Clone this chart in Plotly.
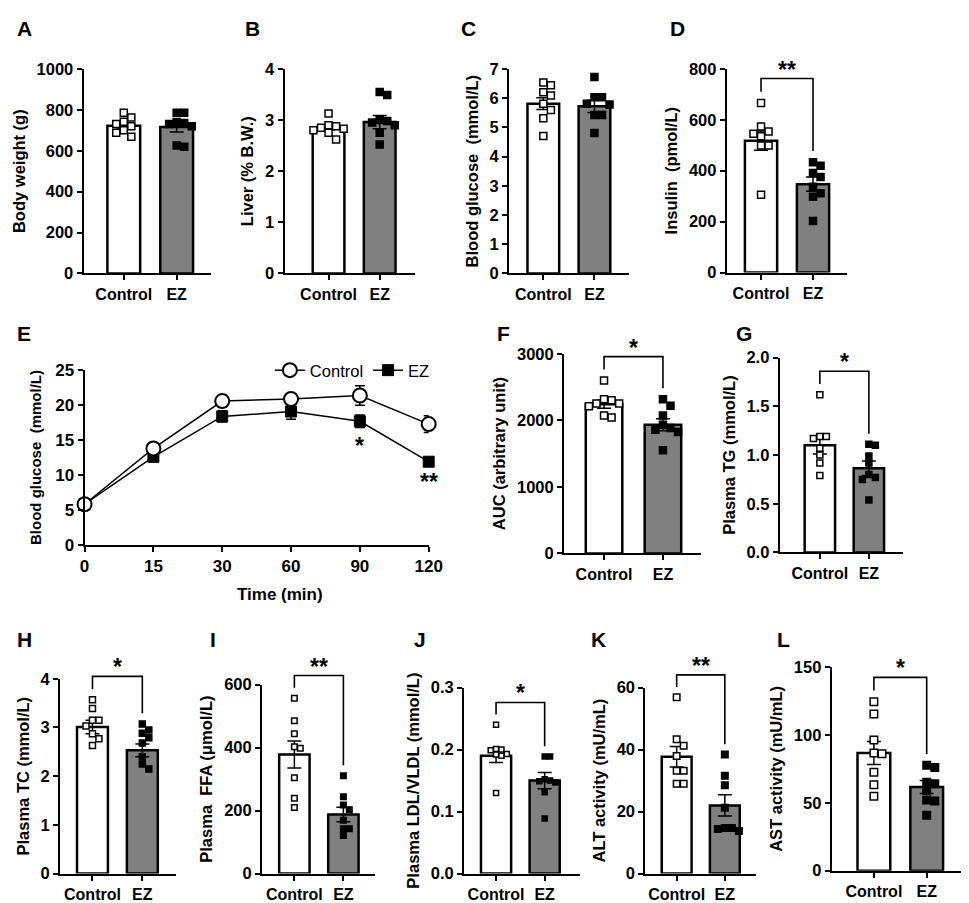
import plotly.graph_objects as go

W, H = 969, 903
groups = ["Control", "EZ"]

# A - Body weight (g)
bw_ctrl = [785, 762, 742, 730, 720, 700, 688, 668]
bw_ez = [785, 785, 740, 735, 730, 720, 625, 620]
bw_mean = [722, 716]
bw_sem = [14, 24]

# B - Liver (% B.W.)
liver_ctrl = [3.13, 2.90, 2.88, 2.85, 2.83, 2.80, 2.75, 2.62]
liver_ez = [3.55, 3.49, 3.00, 2.98, 2.95, 2.90, 2.75, 2.52]
liver_mean = [2.86, 2.96]
liver_sem = [0.05, 0.13]

# C - Blood glucose (mmol/L)
glu_ctrl = [6.53, 6.44, 6.20, 6.09, 5.81, 5.59, 5.31, 4.70]
glu_ez = [6.72, 6.03, 6.03, 5.81, 5.78, 5.42, 5.42, 4.81]
glu_mean = [5.81, 5.72]
glu_sem = [0.20, 0.21]

# D - Insulin (pmol/L)
ins_ctrl = [666, 574, 554, 545, 535, 499, 499, 305]
ins_ez = [433, 419, 391, 375, 337, 311, 298, 202]
ins_mean = [518, 347]
ins_sem = [38, 28]

# E - OGTT
ogtt_time = ["0", "15", "30", "60", "90", "120"]
ogtt_ctrl = [5.8, 13.8, 20.6, 20.9, 21.4, 17.3]
ogtt_ctrl_sem = [0.2, 0.3, 0.8, 0.6, 1.4, 1.2]
ogtt_ez = [5.8, 12.6, 18.4, 19.1, 17.7, 11.9]
ogtt_ez_sem = [0.2, 0.3, 0.8, 1.1, 0.9, 0.4]
ogtt_sig = ["", "", "", "", "*", "**"]

# F - AUC
auc_ctrl = [2597, 2317, 2302, 2253, 2253, 2213, 2071, 2041]
auc_ez = [2317, 2218, 2071, 1933, 1884, 1859, 1825, 1549]
auc_mean = [2240, 1935]
auc_sem = [60, 90]

# G - Plasma TG
tg_ctrl = [1.62, 1.19, 1.19, 1.17, 1.07, 1.00, 0.92, 0.79]
tg_ez = [1.11, 1.10, 0.99, 0.92, 0.80, 0.77, 0.75, 0.54]
tg_mean = [1.10, 0.865]
tg_sem = [0.09, 0.075]

# H - Plasma TC
tc_ctrl = [3.57, 3.39, 3.15, 3.15, 3.03, 2.87, 2.77, 2.63]
tc_ez = [3.07, 2.95, 2.88, 2.79, 2.68, 2.40, 2.25, 2.15]
tc_mean = [3.01, 2.53]
tc_sem = [0.14, 0.13]

# I - Plasma FFA
ffa_ctrl = [557, 485, 444, 403, 398, 304, 239, 210]
ffa_ez = [311, 244, 218, 203, 169, 142, 142, 121]
ffa_mean = [378, 188]
ffa_sem = [43, 23]

# J - Plasma LDL/VLDL
ldl_ctrl = [0.240, 0.201, 0.200, 0.199, 0.193, 0.192, 0.190, 0.130]
ldl_ez = [0.189, 0.189, 0.152, 0.150, 0.149, 0.147, 0.131, 0.089]
ldl_mean = [0.190, 0.150]
ldl_sem = [0.011, 0.013]

# K - ALT activity
alt_ctrl = [56.9, 43.3, 41.2, 37.9, 33.2, 33.2, 29.0, 29.0]
alt_ez = [38.4, 31.6, 28.5, 21.2, 14.7, 14.7, 14.4, 13.7]
alt_mean = [37.7, 22.0]
alt_sem = [3.3, 3.4]

# L - AST activity
ast_ctrl = [124.4, 115.4, 96.2, 86.7, 86.2, 72.4, 63.3, 54.9]
ast_ez = [77.6, 75.9, 65.2, 64.0, 59.2, 52.1, 51.3, 40.8]
ast_mean = [86.7, 61.6]
ast_sem = [8.5, 4.8]

FONT = "Arial, Liberation Sans, sans-serif"

# layout of the bar panels (pixel boxes of the plot areas)
panels = [
    dict(n=1, letter="A", lpos=(2, 12), xpx=(72, 202), ypx=(53, 262), xr=(-0.76, 1.65),
         ymax=1000, dtick=200, fmt="", title="Body weight (g)",
         pts=(bw_ctrl, bw_ez), mean=bw_mean, sem=bw_sem, sig="", ms=7),
    dict(n=2, letter="B", lpos=(235, 12), xpx=(277, 410), ypx=(53, 262), xr=(-0.86, 1.69),
         ymax=4, dtick=1, fmt="", title="Liver (% B.W.)",
         pts=(liver_ctrl, liver_ez), mean=liver_mean, sem=liver_sem, sig="", ms=7),
    dict(n=3, letter="C", lpos=(455, 12), xpx=(506, 628), ypx=(53, 262), xr=(-0.67, 1.67),
         ymax=7, dtick=1, fmt="", title="Blood glucose  (mmol/L)",
         pts=(glu_ctrl, glu_ez), mean=glu_mean, sem=glu_sem, sig="", ms=7),
    dict(n=4, letter="D", lpos=(668, 12), xpx=(728, 851), ypx=(53, 261), xr=(-0.66, 1.66),
         ymax=800, dtick=200, fmt="", title="Insulin  (pmol/L)",
         pts=(ins_ctrl, ins_ez), mean=ins_mean, sem=ins_sem, sig="**", ms=7),
    dict(n=6, letter="F", lpos=(492, 323), xpx=(562, 702), ypx=(344, 548), xr=(-0.68, 1.65),
         ymax=3000, dtick=1000, fmt="", title="AUC (arbitrary unit)",
         pts=(auc_ctrl, auc_ez), mean=auc_mean, sem=auc_sem, sig="*", ms=7),
    dict(n=7, letter="G", lpos=(735, 323), xpx=(782, 908), ypx=(348, 547), xr=(-0.82, 1.7),
         ymax=2.0, dtick=0.5, fmt=".1f", title="Plasma TG (mmol/L)",
         pts=(tg_ctrl, tg_ez), mean=tg_mean, sem=tg_sem, sig="*", ms=6),
    dict(n=8, letter="H", lpos=(2, 636), xpx=(48, 166), ypx=(676, 875), xr=(-0.65, 1.67),
         ymax=4, dtick=1, fmt="", title="Plasma TC (mmol/L)",
         pts=(tc_ctrl, tc_ez), mean=tc_mean, sem=tc_sem, sig="*", ms=6),
    dict(n=9, letter="I", lpos=(199, 636), xpx=(254, 369), ypx=(682, 875), xr=(-0.66, 1.64),
         ymax=600, dtick=200, fmt="", title="Plasma  FFA (μmol/L)",
         pts=(ffa_ctrl, ffa_ez), mean=ffa_mean, sem=ffa_sem, sig="**", ms=5.5),
    dict(n=10, letter="J", lpos=(407, 636), xpx=(460, 578), ypx=(685, 875), xr=(-0.66, 1.72),
         ymax=0.3, dtick=0.1, fmt=".1f", title="Plasma LDL/VLDL (mmol/L)",
         pts=(ldl_ctrl, ldl_ez), mean=ldl_mean, sem=ldl_sem, sig="*", ms=5),
    dict(n=11, letter="K", lpos=(588, 636), xpx=(645, 758), ypx=(685, 875), xr=(-0.65, 1.65),
         ymax=60, dtick=20, fmt="", title="ALT activity (mU/mL)",
         pts=(alt_ctrl, alt_ez), mean=alt_mean, sem=alt_sem, sig="**", ms=6.5),
    dict(n=12, letter="L", lpos=(777, 636), xpx=(835, 967), ypx=(664, 872), xr=(-0.8, 1.65),
         ymax=150, dtick=50, fmt="", title="AST activity (mU/mL)",
         pts=(ast_ctrl, ast_ez), mean=ast_mean, sem=ast_sem, sig="*", ms=7.5),
]


def px_x(p, v):
    x0, x1 = p["xpx"]
    r0, r1 = p["xr"]
    return x0 + (v - r0) / (r1 - r0) * (x1 - x0)


def px_y(p, v):
    y0, y1 = p["ypx"]
    return y1 - v / p["ymax"] * (y1 - y0)


def swarm(vals, p, size):
    # simple beeswarm: spread overlapping points sideways
    spacing = (p["xpx"][1] - p["xpx"][0]) / (p["xr"][1] - p["xr"][0])
    placed, offs = [], [0.0] * len(vals)
    order = sorted(range(len(vals)), key=lambda i: -vals[i])
    cands = [0]
    for k in range(1, 8):
        cands += [k, -k]
    for i in order:
        y = px_y(p, vals[i])
        for c in cands:
            dx = c * size * 1.1
            if all(abs(dx - a) >= size * 1.1 or abs(y - b) >= size * 1.1 for a, b in placed):
                break
        placed.append((dx, y))
        offs[i] = dx / spacing
    return offs


def axis_base():
    return dict(showline=True, linecolor="black", linewidth=2, ticks="outside",
                ticklen=5, tickwidth=2, tickcolor="black", showgrid=False, zeroline=False,
                tickfont=dict(family=FONT, size=16.5, color="black", weight="bold"))


fig = go.Figure()
layout = dict(width=W, height=H, margin=dict(l=0, r=0, t=0, b=0),
              plot_bgcolor="white", paper_bgcolor="white", showlegend=True)
shapes, annotations = [], []

for p in panels:
    n = p["n"]
    xa, ya = "x%d" % n, "y%d" % n
    fig.add_trace(go.Bar(
        x=[0, 1], y=p["mean"], width=0.62, xaxis=xa, yaxis=ya, showlegend=False,
        marker=dict(color=["white", "#808080"], line=dict(color="black", width=2.5)),
        error_y=dict(type="data", array=p["sem"], color="black", thickness=1.5, width=7),
    ))
    for g, vals in enumerate(p["pts"]):
        offs = swarm(vals, p, p["ms"])
        fig.add_trace(go.Scatter(
            x=[g + o for o in offs], y=vals, mode="markers", xaxis=xa, yaxis=ya,
            showlegend=False, cliponaxis=False,
            marker=dict(symbol="square", size=p["ms"],
                        color="white" if g == 0 else "black",
                        line=dict(color="black", width=1.5)),
        ))
    xd = [p["xpx"][0] / W, p["xpx"][1] / W]
    yd = [1 - p["ypx"][1] / H, 1 - p["ypx"][0] / H]
    ax = axis_base()
    ax.update(domain=xd, anchor=ya, range=list(p["xr"]), tickvals=[0, 1], ticktext=groups,
              tickfont=dict(family=FONT, size=16, color="black", weight="bold"))
    layout["xaxis%d" % n] = ax
    ay = axis_base()
    ay.update(domain=yd, anchor=xa, range=[0, p["ymax"]], dtick=p["dtick"], tickformat=p["fmt"],
              title=dict(text=p["title"], standoff=7,
                         font=dict(family=FONT, size=16.5, color="black", weight="bold")))
    layout["yaxis%d" % n] = ay

    annotations.append(dict(text=p["letter"], x=p["lpos"][0] / W, y=1 - p["lpos"][1] / H,
                            xref="paper", yref="paper", xanchor="left", yanchor="middle",
                            showarrow=False,
                            font=dict(family=FONT, size=21, color="black", weight="bold")))

    if p["sig"]:
        top = max(max(p["pts"][0]), max(p["pts"][1]))
        yb = top + 0.12 * p["ymax"]
        y0 = max(p["pts"][0]) + 0.055 * p["ymax"]
        y1 = max(p["pts"][1]) + 0.055 * p["ymax"]
        x0, x1 = px_x(p, 0), px_x(p, 1)
        path = "M %f,%f L %f,%f L %f,%f L %f,%f" % (
            x0 / W, 1 - px_y(p, y0) / H, x0 / W, 1 - px_y(p, yb) / H,
            x1 / W, 1 - px_y(p, yb) / H, x1 / W, 1 - px_y(p, y1) / H)
        shapes.append(dict(type="path", path=path, xref="paper", yref="paper",
                           line=dict(color="black", width=1.6)))
        annotations.append(dict(text=p["sig"], x=(x0 + x1) / 2 / W, y=1 - px_y(p, yb) / H,
                                xref="paper", yref="paper", xanchor="center", yanchor="bottom",
                                yshift=-6, showarrow=False,
                                font=dict(family=FONT, size=23, color="black", weight="bold")))

# E - OGTT line chart
fig.add_trace(go.Scatter(
    x=ogtt_time, y=ogtt_ez, name="EZ", mode="lines+markers", xaxis="x5", yaxis="y5",
    cliponaxis=False, legendrank=2,
    line=dict(color="black", width=1.5),
    marker=dict(symbol="square", size=11, color="black", line=dict(color="black", width=1)),
    error_y=dict(type="data", array=ogtt_ez_sem, color="black", thickness=1.5, width=5),
))
fig.add_trace(go.Scatter(
    x=ogtt_time, y=ogtt_ctrl, name="Control", mode="lines+markers", xaxis="x5", yaxis="y5",
    cliponaxis=False, legendrank=1,
    line=dict(color="black", width=1.5),
    marker=dict(symbol="circle", size=14, color="white", line=dict(color="black", width=2)),
    error_y=dict(type="data", array=ogtt_ctrl_sem, color="black", thickness=1.5, width=5),
))
ex = axis_base()
ex.update(domain=[73 / W, 424 / W], anchor="y5", type="category", range=[0, 5],
          categoryorder="array", categoryarray=ogtt_time,
          tickfont=dict(family=FONT, size=17, color="black", weight="bold"))
layout["xaxis5"] = ex
ey = axis_base()
ey.update(domain=[1 - 539 / H, 1 - 361 / H], anchor="x5", range=[0, 25], dtick=5,
          tickfont=dict(family=FONT, size=17, color="black", weight="bold"),
          title=dict(text="Blood glucose  (mmol/L)", standoff=10,
                     font=dict(family=FONT, size=15, color="black", weight="bold")))
layout["yaxis5"] = ey
for i, (v, s, lab) in enumerate(zip(ogtt_ez, ogtt_ez_sem, ogtt_sig)):
    if lab:
        annotations.append(dict(text=lab, x=i, y=v - s - 2, xref="x5", yref="y5",
                                xanchor="center", yanchor="middle", yshift=-4, showarrow=False,
                                font=dict(family=FONT, size=23, color="black", weight="bold")))
annotations.append(dict(text="Time (min)", x=272 / W, y=1 - 590 / H, xref="paper", yref="paper",
                        xanchor="center", yanchor="middle", showarrow=False,
                        font=dict(family=FONT, size=17, color="black", weight="bold")))
annotations.append(dict(text="E", x=2 / W, y=1 - 323 / H, xref="paper", yref="paper",
                        xanchor="left", yanchor="middle", showarrow=False,
                        font=dict(family=FONT, size=21, color="black", weight="bold")))

layout["legend"] = dict(orientation="h", x=262 / W, y=1 - 361 / H, xanchor="left",
                        yanchor="middle", bgcolor="rgba(0,0,0,0)", traceorder="normal",
                        font=dict(family=FONT, size=16.5, color="black"))
layout["shapes"] = shapes
layout["annotations"] = annotations
fig.update_layout(**layout)

fig.write_html("out.html")
